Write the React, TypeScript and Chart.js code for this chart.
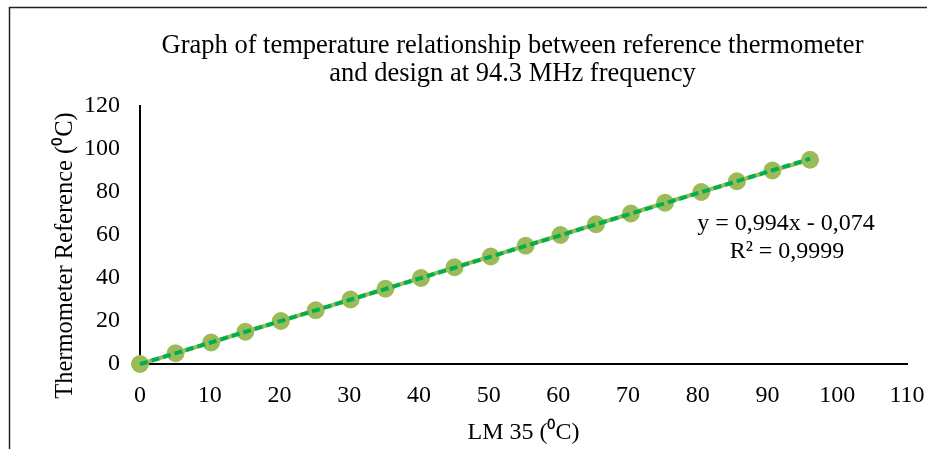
import React, { useEffect, useRef } from "react";
import { Chart, registerables } from "chart.js";

Chart.register(...registerables);

// LM 35 readings (x) and reference thermometer readings (y)
const lmValues = [0, 5.1, 10.2, 15.1, 20.2, 25.2, 30.2, 35.2, 40.3, 45.1, 50.3, 55.3, 60.3, 65.4, 70.4, 75.3, 80.5, 85.6, 90.7, 96.1];
const refValues = [0, 5, 10, 15, 20, 25, 30, 35, 40, 45, 50, 55, 60, 65, 70, 75, 80, 85, 90, 95];

// linear trendline end points
const trendX = [0, 96.1];
const trendY = [-0.074, 95.45];

const xTickValues = [0, 10, 20, 30, 40, 50, 60, 70, 80, 90, 100, 110];
const yTickValues = [0, 20, 40, 60, 80, 100, 120];

const titleLines = [
  "Graph of temperature relationship between reference thermometer",
  "and design at 94.3 MHz frequency",
];
const xTitle = "LM 35 (\u2070C)";
const yTitle = "Thermometer Reference (\u2070C)";
const equationLines = ["y = 0,994x - 0,074", "R\u00B2 = 0,9999"];

const FONT = "'Liberation Serif', 'Times New Roman', serif";

const textPlugin = {
  id: "extraText",
  afterDraw(chart: any) {
    const ctx = chart.ctx as CanvasRenderingContext2D;
    ctx.save();
    // frame
    ctx.strokeStyle = "#222";
    ctx.lineWidth = 1.5;
    ctx.beginPath();
    ctx.moveTo(9.5, chart.height);
    ctx.lineTo(9.5, 7.5);
    ctx.lineTo(chart.width, 7.5);
    ctx.stroke();

    ctx.fillStyle = "#000";
    ctx.textAlign = "center";
    ctx.textBaseline = "alphabetic";
    ctx.font = `26.5px ${FONT}`;
    const cx = 512.5;
    ctx.fillText(titleLines[0], cx, 53);
    ctx.fillText(titleLines[1], cx, 81);

    // y axis title
    ctx.font = `24.5px ${FONT}`;
    ctx.save();
    ctx.translate(72, 255.5);
    ctx.rotate(-Math.PI / 2);
    ctx.fillText(yTitle, 0, 0);
    ctx.restore();

    // trendline equation
    ctx.font = `24px ${FONT}`;
    ctx.fillText(equationLines[0], 786, 230);
    ctx.fillText(equationLines[1], 787, 258);
    ctx.restore();
  },
};

export default function App() {
  const ref = useRef<HTMLCanvasElement | null>(null);
  useEffect(() => {
    if (!ref.current) return;
    const chart = new Chart(ref.current, {
      type: "scatter",
      data: {
        datasets: [
          {
            label: "Trendline",
            data: trendX.map((x, i) => ({ x, y: trendY[i] })),
            showLine: true,
            borderColor: "#00B050",
            borderWidth: 4,
            borderDash: [8, 4],
            pointRadius: 0,
            clip: false,
            order: 0,
          },
          {
            label: "Data",
            data: lmValues.map((x, i) => ({ x, y: refValues[i] })),
            showLine: true,
            borderColor: "#9BBB59",
            borderWidth: 4,
            backgroundColor: "#9BBB59",
            pointBackgroundColor: "#9BBB59",
            pointBorderColor: "#9BBB59",
            pointRadius: 7,
            clip: false,
            order: 1,
          },
        ],
      },
      options: {
        responsive: false,
        animation: false,
        layout: { padding: { left: 0, right: 0, top: 106, bottom: 0 } },
        plugins: {
          legend: { display: false },
          title: { display: false },
          tooltip: { enabled: false },
        },
        scales: {
          x: {
            type: "linear",
            min: 0,
            max: 110,
            afterFit: (s: any) => {
              s.height = 85;
              s.paddingLeft = 0;
              s.paddingRight = 20;
            },
            afterBuildTicks: (s: any) => {
              s.ticks = xTickValues.map((v) => ({ value: v }));
            },
            grid: { display: false, drawTicks: false },
            border: { display: true, color: "#000", width: 2 },
            ticks: { color: "#000", font: { family: FONT, size: 24 }, padding: 17, maxRotation: 0 },
            title: {
              display: true,
              text: xTitle,
              color: "#000",
              font: { family: FONT, size: 24 },
              padding: { top: 0, bottom: 2 },
            },
          },
          y: {
            type: "linear",
            min: 0,
            max: 120,
            afterFit: (s: any) => {
              s.width = 140;
              s.paddingTop = 0;
              s.paddingBottom = 0;
            },
            afterBuildTicks: (s: any) => {
              s.ticks = yTickValues.map((v) => ({ value: v }));
            },
            grid: { display: false, drawTicks: false },
            border: { display: true, color: "#000", width: 2 },
            ticks: { color: "#000", font: { family: FONT, size: 24 }, padding: 20 },
          },
        },
      },
      plugins: [textPlugin],
    });
    return () => chart.destroy();
  }, []);
  return (
    <div style={{ position: "absolute", left: 0, top: 0, width: 927, height: 449, background: "#fff" }}>
      <canvas ref={ref} width={927} height={449} />
    </div>
  );
}
